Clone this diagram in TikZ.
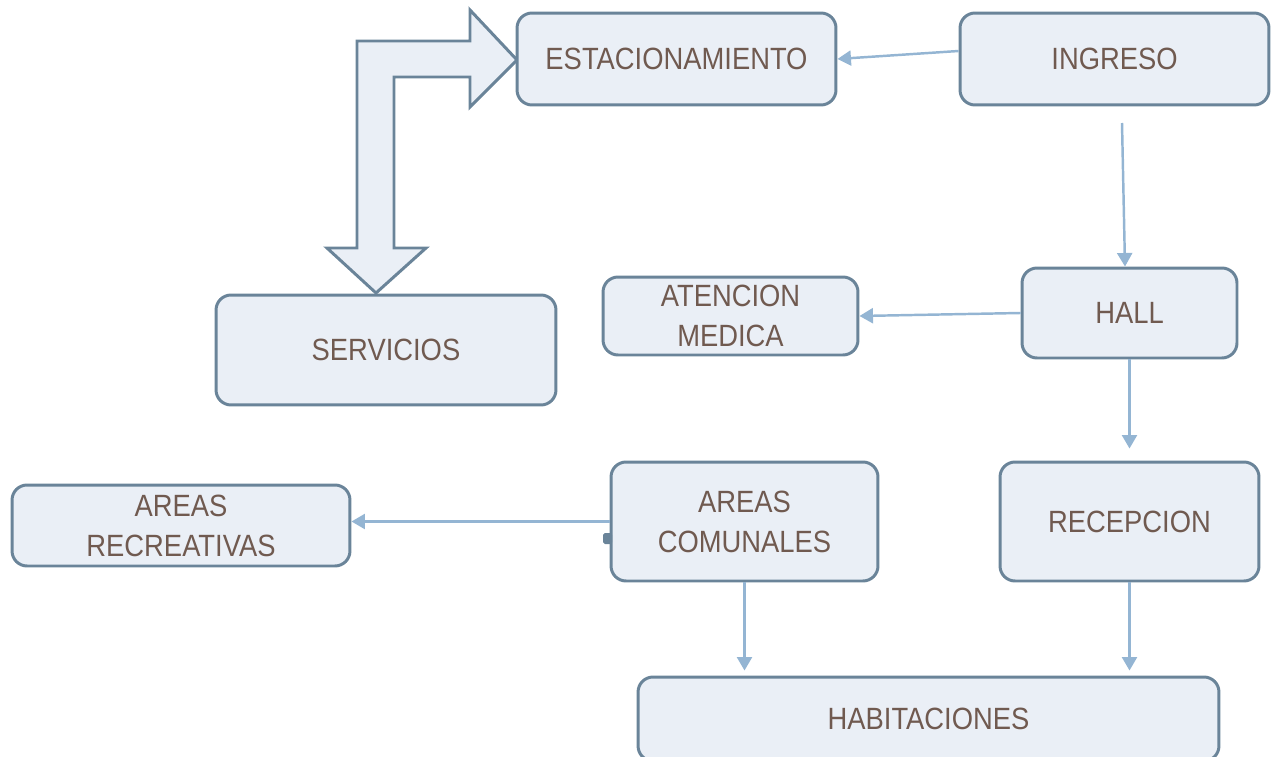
\documentclass[tikz,border=0pt]{standalone}
\usepackage{fontspec}
\setmainfont{Liberation Sans}[FakeStretch=0.89]
\usetikzlibrary{arrows.meta}
\definecolor{boxline}{HTML}{6A8499}
\definecolor{boxfill}{HTML}{EAEFF6}
\definecolor{boxtext}{HTML}{705A50}
\definecolor{flowline}{HTML}{94B5D3}

\begin{document}
\begin{tikzpicture}[x=0.02cm, y=-0.02cm,
    area/.style={draw=boxline, fill=boxfill, line width=1.7pt, rounded corners=0.3cm,
      text=boxtext, align=center, inner sep=0pt,
      font=\fontsize{17.5}{22.8}\selectfont},
    flow/.style={draw=flowline, line width=1.4pt, -{Triangle[length=0.27cm, width=0.3cm]}}]
  \useasboundingbox (0,0) rectangle (1271,757);
  % big bent arrow
  \draw[boxline, fill=boxfill, line width=1.7pt, line join=miter]
    (357,248) -- (327,248) -- (376,293) -- (426,248) -- (394,248) -- (394,77)
    -- (470,77) -- (470,107) -- (517,60) -- (470,10) -- (470,41) -- (357,41) -- cycle;
  \node[area, minimum width=6.38cm, minimum height=1.84cm] (est) at (676.5,59) {ESTACIONAMIENTO};
  \node[area, minimum width=6.18cm, minimum height=1.84cm] (ing) at (1114.5,59) {INGRESO};
  \node[area, minimum width=4.3cm, minimum height=1.8cm] (hall) at (1129.5,313) {HALL};
  \node[area, minimum width=5.1cm, minimum height=1.56cm] (aten) at (730.5,316) {ATENCION\\MEDICA};
  \node[area, minimum width=6.8cm, minimum height=2.2cm] (serv) at (386,350) {SERVICIOS};
  \node[area, minimum width=6.76cm, minimum height=1.62cm] (recr) at (181,525.5) {AREAS\\RECREATIVAS};
  \node[area, minimum width=5.34cm, minimum height=2.38cm] (comu) at (744.5,521.5) {AREAS\\COMUNALES};
  \node[area, minimum width=5.18cm, minimum height=2.38cm] (recep) at (1129.5,521.5) {RECEPCION};
  \node[area, minimum width=11.62cm, minimum height=1.68cm] (hab) at (928.5,719) {HABITACIONES};
  \coordinate (ingdown) at (1122,123);
  % small handle on the left side of AREAS COMUNALES
  \fill[boxline, rounded corners=1pt] (603,533) rectangle (612,544);
  % connectors
  \draw[flow] ([yshift=0.16cm]ing.west) -- (est.east);
  \draw[flow] (ingdown) -- ([xshift=-0.09cm]hall.north);
  \draw[flow] (hall.west) -- (aten.east);
  \draw[flow, shorten >=0.24cm] (hall.south) -- (recep.north);
  \draw[flow] (comu.west) -- (recr.east |- comu.west);
  \draw[flow, shorten >=0.1cm] (comu.south) -- (comu.south |- hab.north);
  \draw[flow, shorten >=0.1cm] (recep.south) -- (recep.south |- hab.north);
\end{tikzpicture}
\end{document}
